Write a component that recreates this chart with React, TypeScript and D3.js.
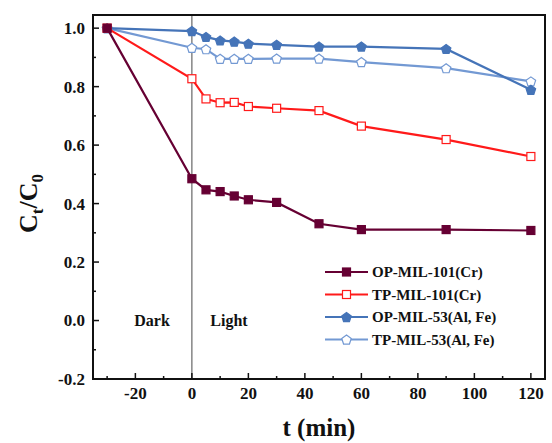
import * as d3 from "d3";

// time points (min)
const times = [-30, 0, 5, 10, 15, 20, 30, 45, 60, 90, 120];

const opMil101 = [1.0, 0.485, 0.447, 0.441, 0.426, 0.413, 0.404, 0.331, 0.311, 0.311, 0.308];
const tpMil101 = [1.0, 0.827, 0.758, 0.745, 0.746, 0.732, 0.726, 0.718, 0.665, 0.619, 0.561];
const opMil53 = [1.0, 0.99, 0.97, 0.958, 0.954, 0.947, 0.943, 0.937, 0.937, 0.929, 0.789];
const tpMil53 = [1.0, 0.933, 0.928, 0.895, 0.895, 0.895, 0.896, 0.896, 0.884, 0.863, 0.818];

const seriesNames = ["OP-MIL-101(Cr)", "TP-MIL-101(Cr)", "OP-MIL-53(Al, Fe)", "TP-MIL-53(Al, Fe)"];

const xTicks = [-20, 0, 20, 40, 60, 80, 100, 120];
const xMinor = [-30, -10, 10, 30, 50, 70, 90, 110];
const yTicks = [-0.2, 0.0, 0.2, 0.4, 0.6, 0.8, 1.0];
const yMinor = [-0.1, 0.1, 0.3, 0.5, 0.7, 0.9];

const width = 552;
const height = 443;
const margin = { top: 15, right: 7, bottom: 64, left: 93 };
const font = "'Liberation Serif', 'Times New Roman', serif";
const ink = "#111111";

const x = d3.scaleLinear().domain([-35, 125]).range([margin.left, width - margin.right]);
const y = d3.scaleLinear().domain([-0.2, 1.045]).range([height - margin.bottom, margin.top]);

const series = [
  { name: seriesNames[0], values: opMil101, color: "#660033", marker: "square", fill: "#660033" },
  { name: seriesNames[1], values: tpMil101, color: "#ff1a1a", marker: "square", fill: "#ffffff" },
  { name: seriesNames[2], values: opMil53, color: "#4574b8", marker: "pentagon", fill: "#4574b8" },
  { name: seriesNames[3], values: tpMil53, color: "#7399d3", marker: "pentagon", fill: "#ffffff" },
];

const pentagon = (cx: number, cy: number, r: number) =>
  d3
    .range(5)
    .map((i) => {
      const a = -Math.PI / 2 + (i * 2 * Math.PI) / 5;
      return [cx + r * Math.cos(a), cy + r * Math.sin(a)].join(",");
    })
    .join(" ");

const Marker = ({ s, cx, cy }: any) =>
  s.marker === "square" ? (
    <rect x={cx - 4} y={cy - 4} width={8} height={8} fill={s.fill} stroke={s.color} strokeWidth={1.2} />
  ) : (
    <polygon points={pentagon(cx, cy + 0.5, 5)} fill={s.fill} stroke={s.color} strokeWidth={1.2} />
  );

const line = d3
  .line<number>()
  .x((_, i) => x(times[i]))
  .y((d) => y(d));

const App = () => {
  const yBottom = height - margin.bottom;
  const xRight = width - margin.right;
  return (
    <div style={{ position: "absolute", left: 0, top: 0, fontFamily: font, fontWeight: 700 }}>
      <style>{`svg text { font-family: ${font}; font-weight: 700; }`}</style>
      <svg width={width} height={height} fontFamily={font} fontWeight="bold" style={{ display: "block", background: "#fff" }}>
        {/* divider at t = 0 */}
        <line x1={x(0)} x2={x(0)} y1={margin.top} y2={yBottom} stroke="#666666" strokeWidth={1.2} />

        {[...series].reverse().map((s) => (
          <g key={s.name}>
            <path d={line(s.values) || ""} fill="none" stroke={s.color} strokeWidth={2.2} />
            {s.values.map((v, i) => (
              <Marker key={i} s={s} cx={x(times[i])} cy={y(v)} />
            ))}
          </g>
        ))}

        {/* frame */}
        <rect
          x={margin.left}
          y={margin.top}
          width={xRight - margin.left}
          height={yBottom - margin.top}
          fill="none"
          stroke={ink}
          strokeWidth={2}
        />

        {/* x ticks */}
        {xTicks.map((t) => (
          <line key={"x" + t} x1={x(t)} x2={x(t)} y1={yBottom} y2={yBottom - 6} stroke={ink} strokeWidth={1.5} />
        ))}
        {xMinor.map((t) => (
          <line key={"xm" + t} x1={x(t)} x2={x(t)} y1={yBottom} y2={yBottom - 3} stroke={ink} strokeWidth={1.5} />
        ))}
        {xTicks.map((t) => (
          <text key={"xl" + t} x={x(t)} y={yBottom + 20} textAnchor="middle" fontSize={17} fill={ink}>
            {t}
          </text>
        ))}

        {/* y ticks */}
        {yTicks.map((v) => (
          <line key={"y" + v} x1={margin.left} x2={margin.left + 6} y1={y(v)} y2={y(v)} stroke={ink} strokeWidth={1.5} />
        ))}
        {yMinor.map((v) => (
          <line key={"ym" + v} x1={margin.left} x2={margin.left + 3} y1={y(v)} y2={y(v)} stroke={ink} strokeWidth={1.5} />
        ))}
        {yTicks.map((v) => (
          <text key={"yl" + v} x={margin.left - 8} y={y(v)} dy="0.35em" textAnchor="end" fontSize={17} fill={ink}>
            {v.toFixed(1)}
          </text>
        ))}

        {/* axis titles */}
        <text x={(margin.left + xRight) / 2} y={436} textAnchor="middle" fontSize={25} fill={ink}>
          t (min)
        </text>
        <text transform={`translate(37, ${y(0.4)}) rotate(-90)`} textAnchor="middle" fontSize={26} fill={ink}>
          C
          <tspan dy={6} fontSize={17}>
            t
          </tspan>
          <tspan dy={-6}>/C</tspan>
          <tspan dy={6} fontSize={17}>
            0
          </tspan>
        </text>

        {/* Dark / Light */}
        <text x={152} y={326} textAnchor="middle" fontSize={16} fill={ink}>
          Dark
        </text>
        <text x={229} y={326} textAnchor="middle" fontSize={16} fill={ink}>
          Light
        </text>

        {/* legend */}
        {series.map((s, i) => {
          const ly = 272 + i * 22.5;
          return (
            <g key={"lg" + s.name}>
              <line x1={325} x2={368} y1={ly} y2={ly} stroke={s.color} strokeWidth={2.2} />
              <Marker s={s} cx={346.5} cy={ly} />
              <text x={372} y={ly} dy="0.35em" fontSize={15} fill={ink}>
                {s.name}
              </text>
            </g>
          );
        })}
      </svg>
    </div>
  );
};

export default App;
